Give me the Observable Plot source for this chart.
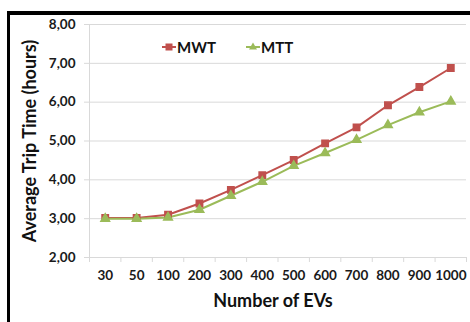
<!DOCTYPE html>
<html>
<head>
<meta charset="utf-8">
<script src="https://cdn.jsdelivr.net/npm/d3@7"></script>
<script src="https://cdn.jsdelivr.net/npm/@observablehq/plot@0.6"></script>
<style>
  html, body { margin: 0; padding: 0; background: #fff; }
  #wrap { position: relative; width: 470px; height: 322px; overflow: hidden; font-family: Lato, "Open Sans", sans-serif; }
  #wrap svg.plot { position: absolute; left: 0; top: 0; }
  #frame { position: absolute; left: 7px; top: 11px; width: 480px; height: 330px; border-left: 3px solid #000; border-top: 4px solid #000; box-sizing: border-box; pointer-events: none; }
  #legend { position: absolute; left: 162px; top: 38px; display: flex; gap: 30px; font-weight: bold; font-size: 15px; color: #111; }
  #legend .item { display: flex; align-items: center; }
  #legend svg { margin-right: 1px; }
</style>
</head>
<body>
<div id="wrap"><div id="frame"></div><div id="legend"></div></div>
<script>
const categories = ["30","50","100","200","300","400","500","600","700","800","900","1000"];
const seriesNames = ["MWT", "MTT"];
const mwt = [3.02, 3.02, 3.10, 3.39, 3.74, 4.12, 4.51, 4.94, 5.35, 5.92, 6.39, 6.88];
const mtt = [3.00, 3.00, 3.03, 3.23, 3.59, 3.95, 4.36, 4.69, 5.03, 5.41, 5.74, 6.02];
const yTicks = [2, 3, 4, 5, 6, 7, 8];
const colors = ["#C0504D", "#9BBB59"];
const symbols = ["square", "triangle"];

const rows = [];
[mwt, mtt].forEach((vals, s) => vals.forEach((v, i) => rows.push({series: seriesNames[s], i: i + 0.5, cat: categories[i], v})));

const fmt = d => d.toFixed(2).replace(".", ",");

const chart = Plot.plot({
  width: 470,
  height: 322,
  marginLeft: 89,
  marginRight: 4,
  marginTop: 24,
  marginBottom: 65,
  style: {fontFamily: "Lato, 'Open Sans', sans-serif", fontWeight: "bold", fontSize: "13.5px", color: "#1a1a1a", background: "transparent"},
  x: {type: "linear", domain: [0, categories.length], axis: null},
  y: {domain: [2, 8], axis: null},
  color: {domain: seriesNames, range: colors},
  symbol: {domain: seriesNames, range: symbols},
  marks: [
    Plot.gridY(yTicks, {stroke: "#d9d9d9", strokeOpacity: 1, strokeWidth: 1}),
    Plot.ruleX([0], {stroke: "#d9d9d9", strokeWidth: 1}),
    Plot.axisY({ticks: yTicks, tickSize: 5, tickPadding: 9, tickFormat: fmt, stroke: "#d9d9d9", label: null}),
    Plot.axisX({ticks: d3.range(categories.length + 1), tickSize: 5, tickFormat: () => "", stroke: "#d9d9d9", label: null}),
    Plot.axisX({ticks: categories.map((c, i) => i + 0.5), tickSize: 0, tickPadding: 13, tickFormat: d => categories[Math.floor(d)], label: null}),
    Plot.line(rows, {x: "i", y: "v", z: "series", stroke: "series", strokeWidth: 2}),
    Plot.dot(rows.filter(d => d.series === "MWT"), {x: "i", y: "v", symbol: "series", fill: "series", stroke: "series", r: 3.6}),
    Plot.dot(rows.filter(d => d.series === "MTT"), {x: "i", y: "v", symbol: "series", fill: "series", stroke: "series", r: 3.2}),
    Plot.text(["Average Trip Time (hours)"], {frameAnchor: "left", textAnchor: "middle", rotate: -90, dx: -59, fontSize: 18, fontWeight: "bold", fill: "#111"}),
    Plot.text(["Number of EVs"], {frameAnchor: "bottom", textAnchor: "middle", dy: 49, dx: -5, fontSize: 18, fontWeight: "bold", fill: "#111"})
  ]
});
chart.classList.add("plot");
document.getElementById("wrap").prepend(chart);

const legend = document.getElementById("legend");
seriesNames.forEach((name, s) => {
  const item = document.createElement("div");
  item.className = "item";
  const shape = symbols[s] === "square"
    ? `<rect x="3.5" y="3.5" width="7" height="7" fill="${colors[s]}"/>`
    : `<path d="M7,2.5 L11,9.5 L3,9.5 Z" fill="${colors[s]}"/>`;
  item.innerHTML = `<svg width="14" height="14"><line x1="0" x2="14" y1="7" y2="7" stroke="${colors[s]}" stroke-width="2"/>${shape}</svg><span>${name}</span>`;
  legend.appendChild(item);
});
</script>
</body>
</html>
